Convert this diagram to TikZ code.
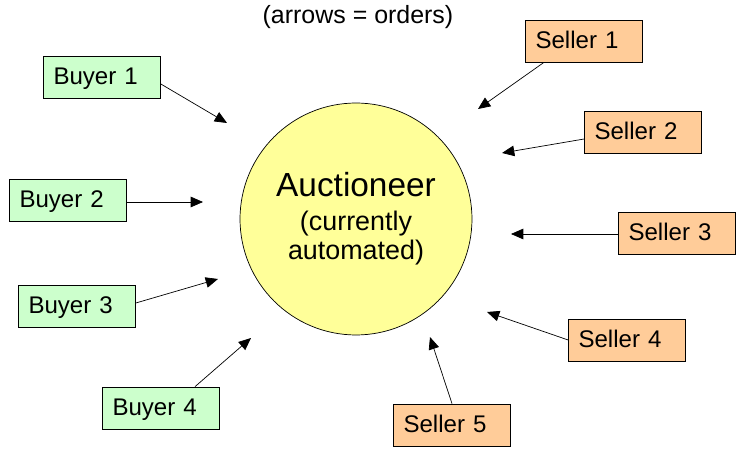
\documentclass[tikz,border=0pt]{standalone}
\usepackage{fontspec}
\setmainfont{Liberation Sans}
\usetikzlibrary{arrows.meta}

\tikzset{
  buyer/.style={draw, fill=buyergreen, minimum width=2.34cm, minimum height=0.84cm,
    text width=1.94cm, inner xsep=0.2cm, align=left, text height=10pt, text depth=1pt,
    font=\fontsize{13.7}{16}\selectfont},
  seller/.style={buyer, fill=sellerorange},
  order/.style={-{Triangle[length=7pt,width=6pt]}, thin}
}
\definecolor{buyergreen}{HTML}{CCFFCC}
\definecolor{sellerorange}{HTML}{FFCC99}
\definecolor{auctyellow}{HTML}{FFFF99}

\begin{document}
\begin{tikzpicture}[x=0.02cm, y=-0.02cm]

% Canvas is measured in pixels of the original slide.
\useasboundingbox (0,0) rectangle (748,452);

% Title
\node[font=\fontsize{14.2}{17}\selectfont] (title) at (358,17) {(arrows = orders)};

% Auctioneer in the middle
\node[draw, circle, fill=auctyellow, minimum size=4.64cm, align=center,
      font=\fontsize{15.3}{16.5}\selectfont] (auct) at (356,219)
    {{\fontsize{19}{22}\selectfont Auctioneer}\\[3pt]
     (currently\\automated)};

% Buyers on the left
\node[buyer] (b1) at (102,77) {Buyer 1};
\node[buyer] (b2) at (68,200) {Buyer 2};
\node[buyer] (b3) at (77,306) {Buyer 3};
\node[buyer] (b4) at (161,408) {Buyer 4};

% Sellers on the right
\node[seller] (s1) at (584,41) {Seller 1};
\node[seller] (s2) at (643,132) {Seller 2};
\node[seller] (s3) at (677,233) {Seller 3};
\node[seller] (s4) at (627,340) {Seller 4};
\node[seller] (s5) at (452,425) {Seller 5};

% Where the orders stop, short of the circle
\coordinate (tb1) at (227,123);
\coordinate (tb2) at (203,202);
\coordinate (tb3) at (218,279);
\coordinate (tb4) at (251,338);
\coordinate (ts1) at (478,109);
\coordinate (ts2) at (502,153);
\coordinate (ts3) at (511,234);
\coordinate (ts4) at (487,312);
\coordinate (ts5) at (430,337);

% Orders from buyers
\draw[order] (b1.east |- 0,84) -- (tb1);
\draw[order] (b2.east |- 0,202) -- (tb2);
\draw[order] (b3.east |- 0,303) -- (tb3);
\draw[order] (b4.north -| 195,0) -- (tb4);

% Orders from sellers
\draw[order] (s1.south -| 544,0) -- (ts1);
\draw[order] (s2.west |- 0,139) -- (ts2);
\draw[order] (s3.west |- 0,234) -- (ts3);
\draw[order] (s4.west) -- (ts4);
\draw[order] (s5.north) -- (ts5);

\end{tikzpicture}
\end{document}
